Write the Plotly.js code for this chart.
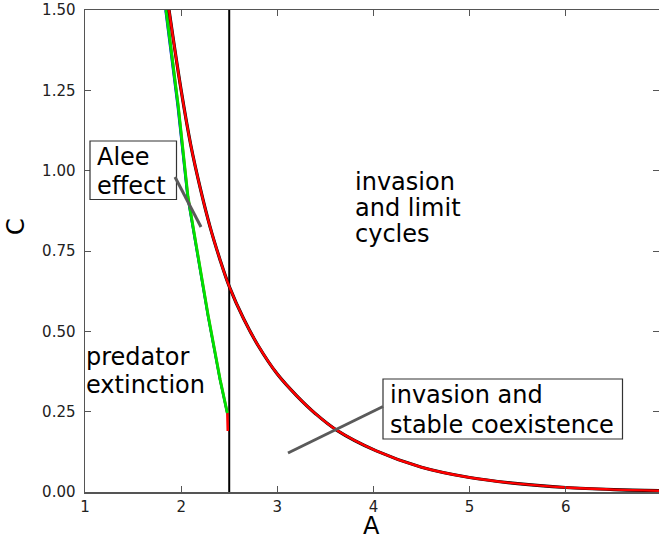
<!DOCTYPE html>
<html>
<head>
<meta charset="utf-8">
<script src="https://cdn.plot.ly/plotly-3.0.1.min.js"></script>
<style>html,body{margin:0;padding:0;background:#fff;}#chart{width:659px;height:540px;}</style>
</head>
<body>
<div id="chart"></div>
<script>
// Upper boundary (red curve)
const redA = [1.874, 2.0, 2.1, 2.2, 2.3, 2.4, 2.5, 2.65, 2.8, 3.0, 3.2, 3.4, 3.62, 4.03, 4.5, 5.0, 5.5, 6.0, 6.5, 6.97];
const redC = [1.5, 1.25, 1.08, 0.944, 0.826, 0.727, 0.64, 0.539, 0.456, 0.367, 0.3, 0.243, 0.192, 0.128, 0.077, 0.045, 0.026, 0.014, 0.0075, 0.004];
// Lower boundary (green line, with blue and red underneath)
const greenA = [1.843, 1.97, 2.07, 2.15, 2.28, 2.405, 2.48];
const greenC = [1.5, 1.2, 0.92, 0.78, 0.55, 0.35, 0.246];
const blueA = [1.835, 1.962, 2.064, 2.145, 2.276, 2.402, 2.478];
const blueC = [1.5, 1.2, 0.92, 0.78, 0.55, 0.35, 0.246];
const lowRedA = [1.846, 1.97, 2.07, 2.15, 2.28, 2.405, 2.48, 2.485];
const lowRedC = [1.5, 1.2, 0.92, 0.78, 0.55, 0.35, 0.246, 0.19];
// Vertical threshold
const vlineA = [2.5, 2.5];
const vlineC = [0, 1.5];
// Axis ticks
const xTicks = [1, 2, 3, 4, 5, 6];
const yTicks = [0, 0.25, 0.5, 0.75, 1.0, 1.25, 1.5];

const F = 'DejaVu Sans, Verdana, sans-serif';
const L = 85, R = 659, T = 10, B = 492;
const px = x => (x - L) / (R - L);
const py = y => (B - y) / (B - T);

const traces = [
  {x: vlineA, y: vlineC, mode: 'lines', line: {color: '#000', width: 2}, hoverinfo: 'skip'},
  {x: lowRedA, y: lowRedC, mode: 'lines', line: {color: '#ff0000', width: 2.5}, hoverinfo: 'skip'},
  {x: blueA, y: blueC, mode: 'lines', line: {color: '#0000ff', width: 2}, hoverinfo: 'skip'},
  {x: greenA, y: greenC, mode: 'lines', line: {color: '#00e000', width: 3}, hoverinfo: 'skip'},
  {x: redA, y: redC, mode: 'lines', line: {color: '#000', width: 3.2, shape: 'spline', smoothing: 1}, hoverinfo: 'skip'},
  {x: redA, y: redC, mode: 'lines', line: {color: '#ff0000', width: 2.4, shape: 'spline', smoothing: 1}, hoverinfo: 'skip'}
];

function txt(t, x, y) {
  return {text: t, xref: 'paper', yref: 'paper', x: px(x), y: py(y), xanchor: 'left', yanchor: 'middle',
    showarrow: false, font: {family: F, size: 24, color: '#000'}, borderpad: 0, borderwidth: 0};
}

const annotations = [
  txt('Alee', 97, 157),
  txt('effect', 97, 186),
  txt('invasion', 355, 182),
  txt('and limit', 355, 208),
  txt('cycles', 355, 234),
  txt('predator', 86, 357),
  txt('extinction', 86, 385),
  txt('invasion and', 390, 395),
  txt('stable coexistence', 390, 424.5),
  // axis titles
  {text: 'A', xref: 'paper', yref: 'paper', x: px(371.5), y: py(526), xanchor: 'center', yanchor: 'middle',
    showarrow: false, font: {family: F, size: 24, color: '#000'}, borderpad: 0, borderwidth: 0},
  {text: 'C', xref: 'paper', yref: 'paper', x: px(16), y: py(227), xanchor: 'center', yanchor: 'middle',
    textangle: -90, showarrow: false, font: {family: F, size: 24, color: '#000'}, borderpad: 0, borderwidth: 0}
];

const shapes = [
  {type: 'rect', xref: 'paper', yref: 'paper', x0: px(90), x1: px(176.5), y0: py(141), y1: py(199.5), line: {color: '#333', width: 1.2}, fillcolor: '#fff', layer: 'above'},
  {type: 'rect', xref: 'paper', yref: 'paper', x0: px(383), x1: px(622.5), y0: py(379), y1: py(439), line: {color: '#333', width: 1.2}, fillcolor: '#fff', layer: 'above'},
  {type: 'line', xref: 'paper', yref: 'paper', x0: px(175), y0: py(177), x1: px(201), y1: py(227), line: {color: '#5a5a5a', width: 3}, layer: 'above'},
  {type: 'line', xref: 'paper', yref: 'paper', x0: px(383), y0: py(406.5), x1: px(288), y1: py(453), line: {color: '#5a5a5a', width: 3}, layer: 'above'}
];

const axisCommon = {
  showline: true, linecolor: '#555', linewidth: 1.5, mirror: 'ticks',
  ticks: 'inside', ticklen: 6, tickwidth: 1, tickcolor: '#555',
  showgrid: false, zeroline: false,
  tickfont: {family: F, size: 15, color: '#222'}
};

const layout = {
  width: 659, height: 540,
  margin: {l: L, r: 659 - R, t: T, b: 540 - B},
  paper_bgcolor: '#fff', plot_bgcolor: '#fff',
  showlegend: false,
  xaxis: Object.assign({}, axisCommon, {range: [1, 6.97], tickvals: xTicks, ticktext: xTicks.map(String),
    ticklabelstandoff: 0}),
  yaxis: Object.assign({}, axisCommon, {range: [0, 1.5], tickvals: yTicks, tickformat: '.2f',
    ticklabelstandoff: 5}),
  annotations: annotations,
  shapes: shapes
};

Plotly.newPlot('chart', traces, layout, {staticPlot: true, displayModeBar: false});
</script>
</body>
</html>
